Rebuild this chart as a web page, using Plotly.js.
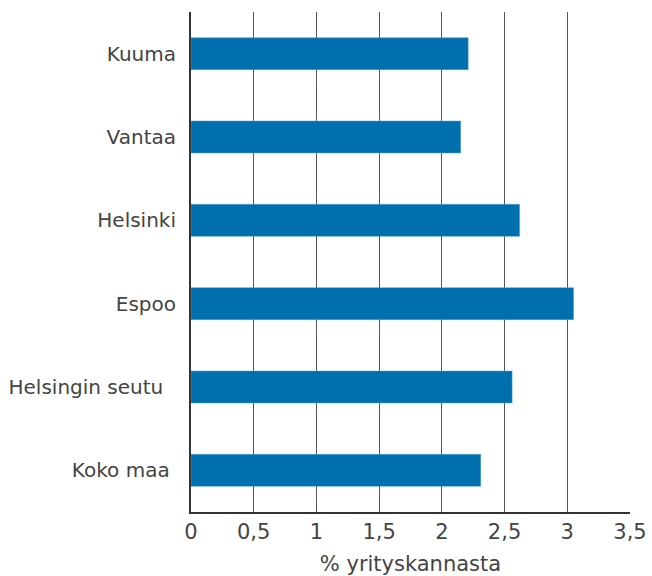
<!DOCTYPE html>
<html>
<head>
<meta charset="utf-8">
<script src="https://cdn.plot.ly/plotly-3.0.1.min.js"></script>
<style>html,body{margin:0;padding:0;background:#fff;}#chart{width:652px;height:576px;}</style>
</head>
<body>
<div id="chart"></div>
<script>
var categories = ["Kuuma", "Vantaa", "Helsinki", "Espoo", "Helsingin seutu\u00a0\u00a0", "Koko maa\u00a0"];
var values = [2.21, 2.15, 2.62, 3.05, 2.56, 2.31];
var tickVals = [0, 0.5, 1, 1.5, 2, 2.5, 3, 3.5];
var xTitle = "% yrityskannasta";

var trace = {
  type: "bar",
  orientation: "h",
  y: categories,
  x: values,
  marker: {color: "#006fad", line: {color: "#5aa0cc", width: 0.5}},
  hoverinfo: "x+y"
};

var layout = {
  width: 652, height: 576,
  margin: {l: 191, r: 22, t: 12, b: 64},
  paper_bgcolor: "#fff", plot_bgcolor: "#fff",
  separators: ",.",
  bargap: 0.616,
  showlegend: false,
  font: {family: "'DejaVu Sans', sans-serif", color: "#444", size: 20},
  xaxis: {
    range: [0, 3.5],
    tickvals: tickVals,
    showgrid: true, gridcolor: "#555", gridwidth: 1,
    zeroline: false,
    showline: true, linecolor: "#333", linewidth: 2,
    ticks: "", tickfont: {size: 21, color: "#444"},
    title: {text: xTitle, font: {size: 21, color: "#444"}, standoff: 30},
    fixedrange: true
  },
  yaxis: {
    autorange: "reversed",
    showline: true, linecolor: "#333", linewidth: 2,
    showgrid: false, zeroline: false,
    ticks: "", ticklabelstandoff: 9,
    tickfont: {size: 20, color: "#444"},
    fixedrange: true
  }
};

Plotly.newPlot("chart", [trace], layout, {displayModeBar: false, staticPlot: true});
</script>
</body>
</html>
